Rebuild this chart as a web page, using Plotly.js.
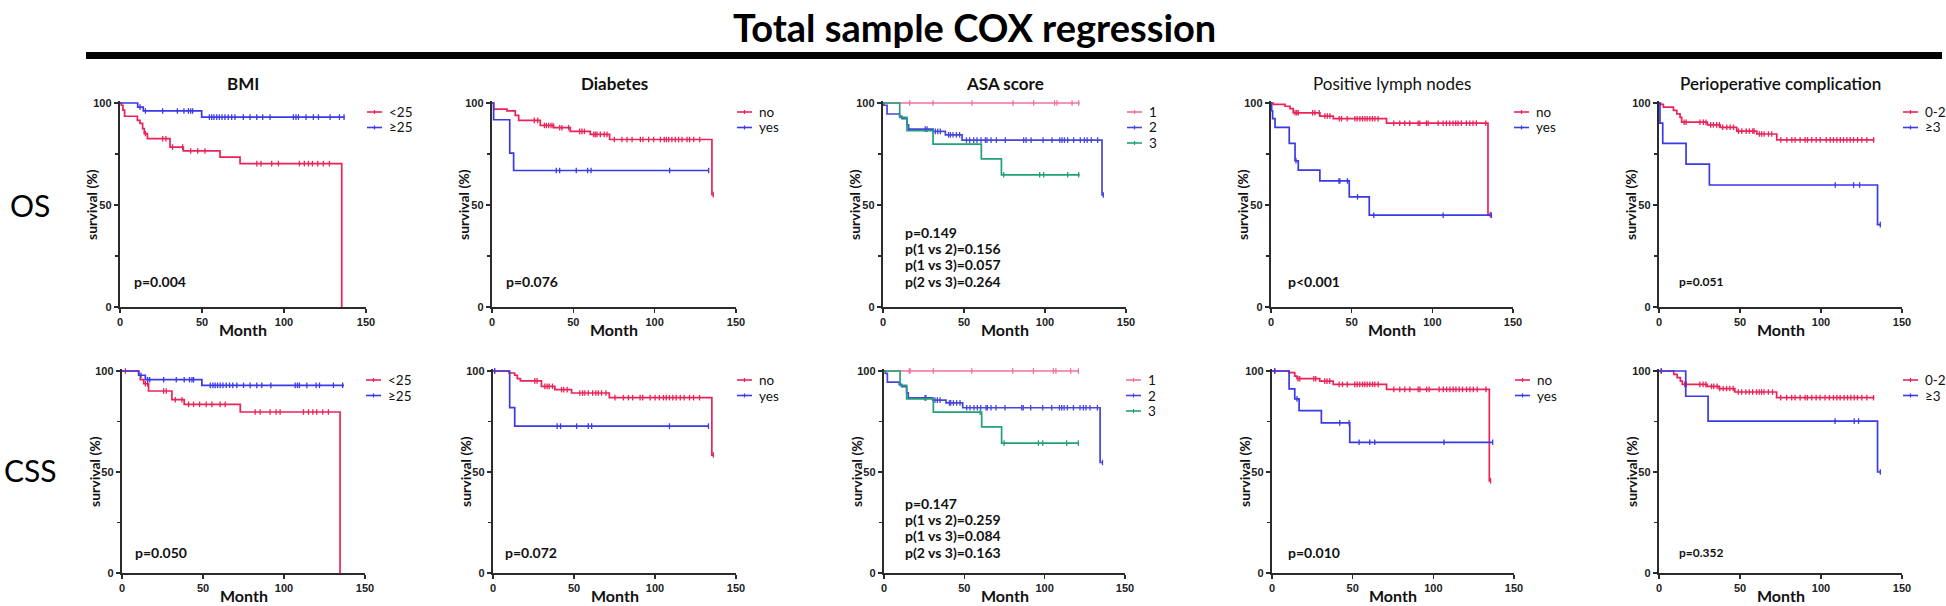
<!DOCTYPE html>
<html><head><meta charset="utf-8">
<script src="https://cdn.plot.ly/plotly-3.0.1.min.js"></script>
<style>html,body{margin:0;padding:0;background:#fff}#chart{width:1946px;height:606px}</style>
</head><body><div id="chart"></div>
<script>
// ---------- labels ----------
const main_title = 'Total sample COX regression';
const row_labels = ['OS', 'CSS'];
const panel_titles = ['BMI', 'Diabetes', 'ASA score', 'Positive lymph nodes', 'Perioperative complication'];
const x_title = 'Month';
const y_title = 'survival (%)';
const bmi_groups = ['<25', '≥25'];
const dm_groups = ['no', 'yes'];
const asa_groups = ['1', '2', '3'];
const ln_groups = ['no', 'yes'];
const cx_groups = ['0-2', '≥3'];
const os_p = [['p=0.004'], ['p=0.076'], ['p=0.149', 'p(1 vs 2)=0.156', 'p(1 vs 3)=0.057', 'p(2 vs 3)=0.264'], ['p<0.001'], ['p=0.051']];
const css_p = [['p=0.050'], ['p=0.072'], ['p=0.147', 'p(1 vs 2)=0.259', 'p(1 vs 3)=0.084', 'p(2 vs 3)=0.163'], ['p=0.010'], ['p=0.352']];
const x_ticks = [0, 50, 100, 150];
const y_ticks = [0, 50, 100];
const y_minor = [25, 75];

// ---------- OS : BMI ----------
const os_bmi_lt25_t = [0.8, 1.8, 2.8, 10.6, 12.2, 13.8, 14.8, 16.7, 30.5, 38.6, 61.0, 73.2, 135.2];
const os_bmi_lt25_s = [98.9, 96.5, 93.5, 91.5, 90.0, 87.4, 85.0, 82.5, 78.4, 76.5, 73.5, 70.3, 0];
const os_bmi_lt25_c = [15.5, 26, 28, 32, 38.2, 43.1, 47.4, 51.8, 83.4, 86, 92.5, 96.6, 109.4, 112.4, 114.9, 117.3, 120.6, 124, 127.7];
const os_bmi_ge25_t = [10.8, 14.2, 49.8];
const os_bmi_ge25_s = [98.0, 96.1, 93.1];
const os_bmi_ge25_c = [12.2, 15.5, 26, 35, 39, 41.7, 43.1, 44.3, 54.5, 55.9, 57.3, 59, 60.6, 62.2, 64, 66, 68.1, 70.1, 75.2, 79.3, 83.4, 87, 91.5, 105.7, 107.3, 108.8, 113.4, 117.9, 121, 128.1, 133.8, 136.6];
const os_bmi_end = [135.2, 137];

// ---------- OS : Diabetes ----------
const os_dm_no_t = [1.0, 9.2, 14.3, 16.4, 29.7, 37.9, 48.1, 60.4, 72.3, 135.2];
const os_dm_no_s = [97.0, 96.1, 93.9, 91.5, 89.0, 87.9, 86.1, 84.6, 82.1, 55.1];
const os_dm_no_c = [26, 28.1, 32.2, 33.4, 34.8, 36.3, 37.5, 41.6, 43, 47.1, 53.9, 55.3, 56.8, 62.5, 63.5, 64.5, 66.6, 69, 70.7, 75.2, 79.9, 83, 86.1, 91.2, 92.8, 96.3, 99.4, 103.5, 105.9, 107.2, 108.6, 110.6, 112.7, 114.7, 116.8, 119.9, 121.5, 124, 127.7, 136];
const os_dm_yes_t = [1.0, 10.9, 13.3];
const os_dm_yes_s = [91.8, 75.4, 66.9];
const os_dm_yes_c = [39.5, 41.6, 51.8, 58.8, 60.9, 109.2, 133.2];
const os_dm_end = [136, 133.2];

// ---------- OS : ASA ----------
const os_asa_1_t = [];
const os_asa_1_s = [];
const os_asa_1_c = [16.5, 30.9, 54.9, 80.3, 93, 105.9, 107.4, 116.7, 120.8];
const os_asa_2_t = [0.5, 2.5, 10.3, 11.7, 14.8, 15.8, 30.9, 38.5, 48.8, 135.2];
const os_asa_2_s = [98.9, 94.6, 93.4, 92.3, 89.3, 87.2, 86.1, 84.4, 81.8, 54.9];
const os_asa_2_c = [26.1, 27.2, 32.3, 33.8, 35.4, 40.5, 41.6, 43.2, 45.3, 47.3, 51.5, 53.5, 56, 58, 60.5, 63.2, 64.2, 66.7, 70, 75.5, 86.8, 88.3, 91.4, 98.8, 104.3, 109.1, 110.5, 112, 114, 117.7, 121.8, 124.3, 126, 128.6, 132.5, 136];
const os_asa_3_t = [10.3, 14.8, 30.9, 60.7, 73.1];
const os_asa_3_s = [93.0, 86.4, 79.8, 72.6, 64.8];
const os_asa_3_c = [74.5, 96.7, 99.2, 114, 120.8];
const os_asa_end = [121.4, 136, 121.4];

// ---------- OS : Positive lymph nodes ----------
const os_ln_no_t = [1.4, 8.7, 11.8, 13.8, 30.3, 38.6, 71.6, 134.5];
const os_ln_no_s = [99.3, 98.4, 97.2, 95.2, 93.6, 92.3, 90.1, 45.3];
const os_ln_no_c = [14.9, 15.9, 16.9, 25.8, 27.2, 29.9, 33.4, 34.9, 36.5, 42.3, 43.7, 47.2, 52, 53.4, 55.1, 56.7, 58.2, 59.6, 61.3, 62.9, 64.4, 66.4, 76.1, 79.8, 82.9, 86, 91.2, 92.2, 96.3, 97.4, 103.6, 106.7, 108.7, 110.8, 112.8, 114.5, 115.9, 118, 121.1, 123.2, 125.2, 127.3, 133.1, 135.9];
const os_ln_yes_t = [0.4, 1.0, 2.5, 11.3, 14.9, 16.9, 30.3, 48.5, 60.9];
const os_ln_yes_s = [96.2, 92.3, 88.1, 80.2, 71.7, 67.1, 61.8, 54.0, 45.0];
const os_ln_yes_c = [15.5, 42.1, 42.7, 47.4, 53.6, 63.7, 106.7, 136.6];
const os_ln_end = [135.9, 136.6];

// ---------- OS : Perioperative complication ----------
const os_cx_02_t = [1.0, 2.7, 8.9, 11.0, 13.0, 14.0, 29.9, 37.7, 48.0, 60.4, 72.7];
const os_cx_02_s = [99.3, 98.0, 96.4, 94.7, 93.0, 90.6, 89.3, 88.1, 86.2, 84.8, 81.9];
const os_cx_02_c = [15.5, 16.7, 25.3, 27.4, 29, 31.9, 33.6, 35.6, 37.3, 39.3, 41.8, 43.9, 46, 49.1, 51.1, 53.8, 55.8, 57.9, 58.7, 62, 63.4, 64.9, 67.6, 69.6, 75.2, 78.9, 82, 84, 87.1, 90.2, 91.7, 94.3, 97, 99.5, 103.2, 105.7, 107.7, 109.8, 111.9, 113.9, 116, 118, 120.1, 122.6, 125.2, 128.3, 132.5];
const os_cx_ge3_t = [0.6, 2.3, 16.7, 31.1, 134.9];
const os_cx_ge3_s = [90.1, 80.2, 70.0, 59.8, 40.4];
const os_cx_ge3_c = [108.8, 120.1, 123.8, 136.6];
const os_cx_end = [132.9, 137];

// ---------- CSS : BMI ----------
const css_bmi_lt25_t = [10.3, 11.3, 13.4, 16.4, 30.8, 38.4, 73.0, 134.6];
const css_bmi_lt25_s = [97.9, 95.7, 93.7, 90.1, 85.8, 83.5, 79.7, 0];
const css_bmi_lt25_c = [2.1, 14.4, 15.8, 25.7, 27.3, 32.9, 37, 41.1, 44.2, 47.9, 52, 55.5, 60.6, 63.7, 82.2, 85.3, 91.4, 95.1, 97.6, 112, 115.1, 117.8, 120.2, 123.9, 127.4];
const css_bmi_ge25_t = [10.3, 14.4, 49.3];
const css_bmi_ge25_s = [97.9, 95.7, 92.9];
const css_bmi_ge25_c = [11.7, 15.8, 17.1, 25.7, 33.5, 38.4, 41.7, 43.2, 44.2, 54.5, 56.1, 57.5, 59, 60.6, 62.3, 64.3, 66.4, 68.4, 70.9, 75, 79.1, 83.2, 86.3, 91.9, 106.9, 108.3, 109.5, 114.1, 119.8, 121.9, 130.5, 136.2];
const css_bmi_end = [134.6, 137];

// ---------- CSS : Diabetes ----------
const css_dm_no_t = [9.9, 13.4, 15.0, 16.9, 29.9, 38.2, 48.5, 71.8, 135.1];
const css_dm_no_s = [99.0, 97.9, 96.2, 95.1, 92.4, 90.8, 89.1, 86.8, 58.4];
const css_dm_no_c = [1, 25.8, 27.2, 32, 33.4, 34.7, 36.7, 42.3, 43.7, 45.8, 53.6, 55.3, 56.7, 58.8, 61.5, 63.5, 65, 67, 69.7, 75.3, 80.5, 83.6, 86.2, 90.8, 92.4, 97, 100.1, 102.7, 105.2, 106.9, 108.9, 111, 113.1, 115.6, 118, 121.3, 123.8, 127.5, 136];
const css_dm_yes_t = [10.3, 13.4];
const css_dm_yes_s = [81.9, 72.7];
const css_dm_yes_c = [1, 39.6, 41.7, 51.6, 58.8, 60.9, 108.9, 133];
const css_dm_end = [136, 133];

// ---------- CSS : ASA ----------
const css_asa_1_t = [];
const css_asa_1_s = [];
const css_asa_1_c = [15.8, 16.2, 30.7, 54.6, 80.1, 93, 105.4, 107, 116.2, 121];
const css_asa_2_t = [0.8, 2.1, 9.5, 11.0, 14.1, 15.1, 30.3, 38.6, 49.0, 134.5];
const css_asa_2_s = [98.8, 94.5, 93.4, 92.2, 89.2, 86.7, 85.6, 84.2, 81.8, 54.7];
const css_asa_2_c = [25.5, 26.1, 31.7, 33.2, 34.9, 40.7, 41.5, 43.2, 45.2, 47.3, 51.5, 53.5, 56, 58.1, 60.2, 63.5, 64.3, 66.6, 69.7, 75.3, 85.7, 86.7, 91.3, 98.8, 104.4, 109.2, 110.6, 112.1, 114.1, 117.9, 122, 124.1, 125.7, 128.2, 132.8, 136];
const css_asa_3_t = [10.0, 14.1, 30.7, 60.8, 73.2];
const css_asa_3_s = [92.9, 86.2, 79.6, 72.3, 64.3];
const css_asa_3_c = [59.8, 74.7, 96.1, 98.8, 113.7, 121];
const css_asa_end = [121, 136, 121];

// ---------- CSS : Positive lymph nodes ----------
const css_ln_no_t = [10.6, 14.1, 15.5, 29.6, 37.9, 71.0, 134.7];
const css_ln_no_s = [99.2, 97.5, 96.2, 95.0, 93.4, 90.9, 45.6];
const css_ln_no_c = [1.7, 16.1, 17.2, 25.9, 27.1, 32.7, 34.1, 35.8, 41.6, 43.7, 46.6, 51.3, 52.8, 54.4, 56.1, 57.5, 59, 60.6, 62.3, 63.7, 65.8, 75.5, 79.2, 82.3, 85.4, 90.6, 91.7, 95.8, 97.4, 103.6, 106.2, 108.2, 110.3, 112.3, 114, 116, 118.1, 120.6, 122.7, 124.8, 127.2, 132.6, 135.5];
const css_ln_yes_t = [10.6, 14.1, 16.8, 30.6, 48.2];
const css_ln_yes_s = [91.2, 86.2, 80.4, 74.3, 64.7];
const css_ln_yes_c = [1.7, 15.5, 42, 47.8, 54, 60.6, 63.7, 106.6, 136.8];
const css_ln_end = [135.5, 136.8];

// ---------- CSS : Perioperative complication ----------
const css_cx_02_t = [9.1, 11.2, 13.2, 14.4, 29.7, 37.1, 46.8, 72.6];
const css_cx_02_s = [98.3, 96.7, 95.0, 93.4, 92.4, 91.3, 89.6, 86.8];
const css_cx_02_c = [1.4, 15.9, 16.9, 25.2, 27.2, 28.9, 32.4, 33.8, 35.9, 37.5, 39.6, 41.7, 43.7, 45.8, 48.9, 51, 53.6, 55.7, 57.8, 60.2, 61.9, 63.3, 64.8, 67.5, 70.1, 75.1, 78.8, 81.9, 84, 87.1, 90.2, 91.6, 94.3, 97, 99.4, 102.5, 105.2, 107.7, 109.8, 111.8, 114.3, 116.4, 118.4, 120.5, 122.5, 125.2, 128.3, 132.4];
const css_cx_ge3_t = [16.5, 30.3, 134.9];
const css_cx_ge3_s = [87.5, 75.2, 50.0];
const css_cx_ge3_c = [1.4, 108.7, 120.5, 123.2, 136.6];
const css_cx_end = [132.9, 137];

// ---------- styles ----------
const RED = '#ec2358', BLUE = '#3a3ae6', PINK = '#f2709c', BLUE2 = '#4646dc', GREEN = '#22a07a';
const AX = '#2b2b2b';
const W = 1946, H = 606;
const px = x => x / W, py = y => 1 - y / H;

function grp(names, colors, T, S, C, E) {
  return names.map((n, i) => ({ name: n, color: colors[i], t: T[i], s: S[i], c: C[i], end: E[i] }));
}
const panels = [
  grp(bmi_groups, [RED, BLUE], [os_bmi_lt25_t, os_bmi_ge25_t], [os_bmi_lt25_s, os_bmi_ge25_s], [os_bmi_lt25_c, os_bmi_ge25_c], os_bmi_end),
  grp(dm_groups, [RED, BLUE], [os_dm_no_t, os_dm_yes_t], [os_dm_no_s, os_dm_yes_s], [os_dm_no_c, os_dm_yes_c], os_dm_end),
  grp(asa_groups, [PINK, BLUE2, GREEN], [os_asa_1_t, os_asa_2_t, os_asa_3_t], [os_asa_1_s, os_asa_2_s, os_asa_3_s], [os_asa_1_c, os_asa_2_c, os_asa_3_c], os_asa_end),
  grp(ln_groups, [RED, BLUE], [os_ln_no_t, os_ln_yes_t], [os_ln_no_s, os_ln_yes_s], [os_ln_no_c, os_ln_yes_c], os_ln_end),
  grp(cx_groups, [RED, BLUE], [os_cx_02_t, os_cx_ge3_t], [os_cx_02_s, os_cx_ge3_s], [os_cx_02_c, os_cx_ge3_c], os_cx_end),
  grp(bmi_groups, [RED, BLUE], [css_bmi_lt25_t, css_bmi_ge25_t], [css_bmi_lt25_s, css_bmi_ge25_s], [css_bmi_lt25_c, css_bmi_ge25_c], css_bmi_end),
  grp(dm_groups, [RED, BLUE], [css_dm_no_t, css_dm_yes_t], [css_dm_no_s, css_dm_yes_s], [css_dm_no_c, css_dm_yes_c], css_dm_end),
  grp(asa_groups, [PINK, BLUE2, GREEN], [css_asa_1_t, css_asa_2_t, css_asa_3_t], [css_asa_1_s, css_asa_2_s, css_asa_3_s], [css_asa_1_c, css_asa_2_c, css_asa_3_c], css_asa_end),
  grp(ln_groups, [RED, BLUE], [css_ln_no_t, css_ln_yes_t], [css_ln_no_s, css_ln_yes_s], [css_ln_no_c, css_ln_yes_c], css_ln_end),
  grp(cx_groups, [RED, BLUE], [css_cx_02_t, css_cx_ge3_t], [css_cx_02_s, css_cx_ge3_s], [css_cx_02_c, css_cx_ge3_c], css_cx_end)
];

// geometry (pixels)
const colL = [[120, 492, 883, 1271, 1659], [122, 493, 884, 1272, 1659]];
const colR = [[366, 736, 1126, 1513, 1902], [365, 736, 1125, 1514, 1902]];
const rowTop100 = [103, 371], rowBot = [307, 573];
const pDx = [[12, 12, 20, 15, 18], [11, 10, 19, 14, 18]];
const pYoff = [26, 21];
const titleW = ['bold', 'bold', 'bold', 'normal', '600'];
const pSize = [14, 14, 14, 14, 12];

function survAt(T, S, x) { let v = 100; for (let i = 0; i < T.length; i++) if (T[i] <= x) v = S[i]; return v; }

const traces = [];
const layout = {
  width: W, height: H, margin: { l: 0, r: 0, t: 0, b: 0 },
  paper_bgcolor: '#fff', plot_bgcolor: '#fff', showlegend: false,
  font: { family: 'Lato, sans-serif', color: '#1a1a1a' },
  annotations: [], shapes: []
};
function ann(x, y, text, font, extra) {
  layout.annotations.push(Object.assign({ xref: 'paper', yref: 'paper', x: px(x), y: py(y), text: text, showarrow: false, xanchor: 'center', yanchor: 'middle', font: font }, extra || {}));
}

ann(974, 2, main_title, { size: 38, weight: 'bold', color: '#000' }, { yanchor: 'top' });
layout.shapes.push({ type: 'line', xref: 'paper', yref: 'paper', x0: px(86), x1: px(1942), y0: py(55.5), y1: py(55.5), line: { color: '#000', width: 7 } });
row_labels.forEach((r, i) => ann(30, i ? 470 : 205, r, { size: 30, color: '#000' }));

panels.forEach((groups, k) => {
  const row = k < 5 ? 0 : 1, col = k % 5;
  const sfx = k === 0 ? '' : String(k + 1);
  const L = colL[row][col], R = colR[row][col];
  const top100 = rowTop100[row], bot = rowBot[row];
  const unit = (bot - top100) / 100;
  const top = bot - 101 * unit;
  layout['xaxis' + sfx] = {
    domain: [px(L), px(R)], range: [0, 150], anchor: 'y' + sfx,
    tickmode: 'array', tickvals: x_ticks, ticks: 'outside', ticklen: 4, tickwidth: 1.5, tickcolor: AX,
    showline: true, linecolor: AX, linewidth: 1.5, showgrid: false, zeroline: false, fixedrange: true,
    tickfont: { family: 'Liberation Sans, Arial', size: 11, weight: 'bold', color: '#222' }
  };
  layout['yaxis' + sfx] = {
    domain: [py(bot), py(top)], range: [0, 101], anchor: 'x' + sfx,
    tickmode: 'array', tickvals: y_ticks, ticks: 'outside', ticklen: 4, tickwidth: 1.5, tickcolor: AX,
    minor: { tickmode: 'array', tickvals: y_minor, ticks: 'outside', ticklen: 3, tickwidth: 1.2, tickcolor: AX },
    showline: true, linecolor: AX, linewidth: 2.2, showgrid: false, zeroline: false, fixedrange: true,
    tickfont: { family: 'Liberation Sans, Arial', size: 11, weight: 'bold', color: '#222' }
  };
  // axis titles
  ann((L + R) / 2, bot + 22, x_title, { size: 16, weight: 'bold', color: '#111' });
  ann(L - 28, (top100 + bot) / 2, y_title, { size: 14, weight: 'bold', color: '#111' }, { textangle: -90 });

  groups.forEach((g, j) => {
    const xs = [0].concat(g.t, [g.end]);
    const ys = [100].concat(g.s, [g.s.length ? g.s[g.s.length - 1] : 100]);
    traces.push({ x: xs, y: ys, xaxis: 'x' + sfx, yaxis: 'y' + sfx, mode: 'lines', line: { shape: 'hv', color: g.color, width: 1.7 }, hoverinfo: 'skip' });
    traces.push({ x: g.c, y: g.c.map(v => survAt(g.t, g.s, v)), xaxis: 'x' + sfx, yaxis: 'y' + sfx, mode: 'markers', cliponaxis: false,
      marker: { symbol: 'line-ns', size: 4, color: g.color, line: { color: g.color, width: 1.3 } }, hoverinfo: 'skip' });
    // legend item
    const ly = top100 + 9 + 15.5 * j;
    layout.shapes.push({ type: 'line', xref: 'paper', yref: 'paper', x0: px(R + 1), x1: px(R + 16), y0: py(ly), y1: py(ly), line: { color: g.color, width: 1.6 } });
    layout.shapes.push({ type: 'line', xref: 'paper', yref: 'paper', x0: px(R + 8.5), x1: px(R + 8.5), y0: py(ly - 2), y1: py(ly + 2), line: { color: g.color, width: 1.2 } });
    ann(R + 21, ly, g.name, { size: 13.5, color: '#111' }, { xanchor: 'left' });
  });
  if (row === 0) ann((L + R) / 2, 83, panel_titles[col], { size: 17, weight: titleW[col], color: '#111' });
  const plist = (row === 0 ? os_p : css_p)[col];
  const baseY = bot - pYoff[row];
  plist.forEach((t, i) => {
    const yy = baseY - (plist.length - 1 - i) * 16.3;
    ann(L + pDx[row][col], yy, t.replace('<', '&lt;'), { size: pSize[col], weight: 'bold', color: '#111' }, { xanchor: 'left' });
  });
});

Plotly.newPlot('chart', traces, layout, { staticPlot: true, displayModeBar: false });
</script></body></html>
